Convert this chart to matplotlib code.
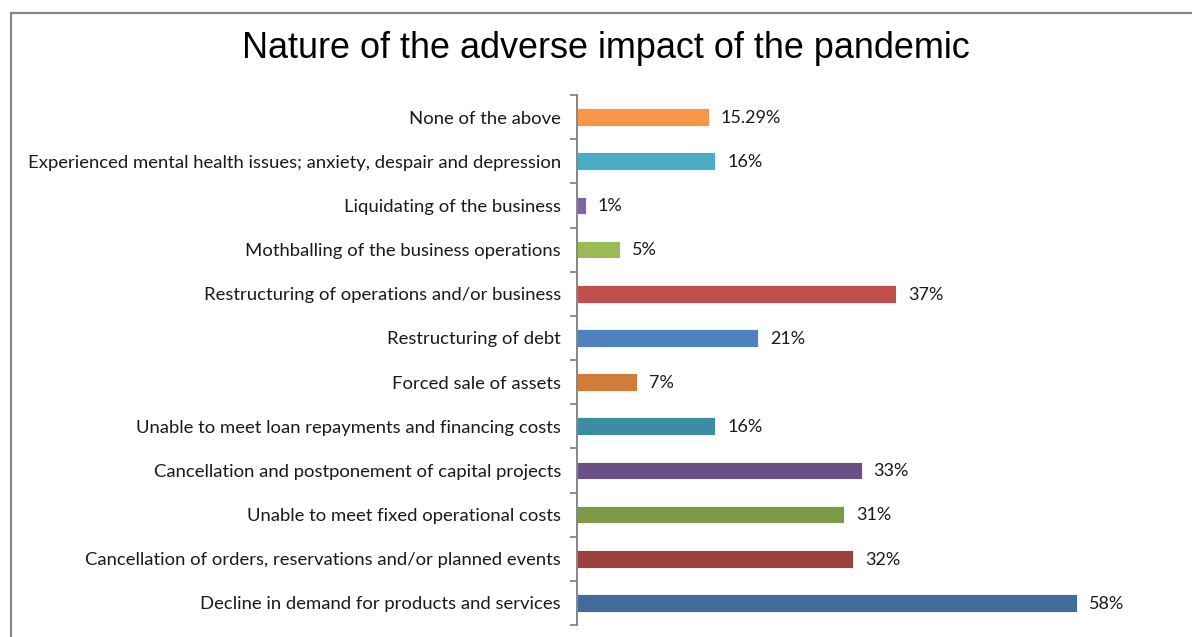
import matplotlib
matplotlib.use("Agg")
import matplotlib.pyplot as plt
import numpy as np
from matplotlib.patches import Rectangle

# 从下到上的类别顺序（与图中自下而上一致）
categories = [
    "Decline in demand for products and services",
    "Cancellation of orders, reservations and/or planned events",
    "Unable to meet fixed operational costs",
    "Cancellation and postponement of capital projects",
    "Unable to meet loan repayments and financing costs",
    "Forced sale of assets",
    "Restructuring of debt",
    "Restructuring of operations and/or business",
    "Mothballing of the business operations",
    "Liquidating of the business",
    "Experienced mental health issues; anxiety, despair and depression",
    "None of the above",
]
values = [58, 32, 31, 33, 16, 7, 21, 37, 5, 1, 16, 15.29]
value_labels = ["58%", "32%", "31%", "33%", "16%", "7%", "21%", "37%", "5%", "1%", "16%", "15.29%"]
bar_colors = [
    "#416B9C", "#9C403E", "#7E9A48", "#6A5086", "#3C8CA3", "#D17C3A",
    "#4F81BD", "#C0504D", "#9BBB59", "#8064A2", "#4BACC6", "#F79646",
]
title = "Nature of the adverse impact of the pandemic"

label_font = ["Lato", "DejaVu Sans"]
title_font = ["Liberation Sans", "DejaVu Sans"]

W, H = 1192, 637
fig = plt.figure(figsize=(W / 100, H / 100), dpi=100)
fig.patch.set_facecolor("white")

# 外框：只露出上边和左边
frame = Rectangle((11 / W, -0.05), 1.2, 1 - 13 / H + 0.05, transform=fig.transFigure,
                  fill=False, edgecolor="#878787", linewidth=1.6)
fig.patches.append(frame)

ax = fig.add_axes([577 / W, 1 - 625 / H, (1185 - 577) / W, (625 - 95) / H])

y = np.arange(len(categories))
bars = ax.barh(y, values, height=0.4, color=bar_colors, edgecolor="white", linewidth=0.6)

for yi, v, lab in zip(y, values, value_labels):
    ax.text(v + 1.4, yi - 0.02, lab, va="center", ha="left", fontsize=13,
            family=label_font, color="#1a1a1a")

ax.set_xlim(0, 70.5)
ax.set_ylim(-0.5, len(categories) - 0.5)

ax.set_yticks(y)
ax.set_yticklabels(categories, family=label_font, fontsize=13.3, color="#1a1a1a")
ax.tick_params(axis="y", which="major", length=0, pad=11.5)
ax.set_yticks(np.arange(-0.5, len(categories)), minor=True)
ax.tick_params(axis="y", which="minor", length=5, width=1.3, color="#868686", direction="out")
ax.set_xticks([])

for side in ["top", "right", "bottom"]:
    ax.spines[side].set_visible(False)
ax.spines["left"].set_color("#868686")
ax.spines["left"].set_linewidth(1.4)

fig.text(606 / W, 1 - 49 / H, title, ha="center", va="center", fontsize=25.9,
         family=title_font, color="black")

fig.savefig("out.png", dpi=100, facecolor="white")
plt.close(fig)
